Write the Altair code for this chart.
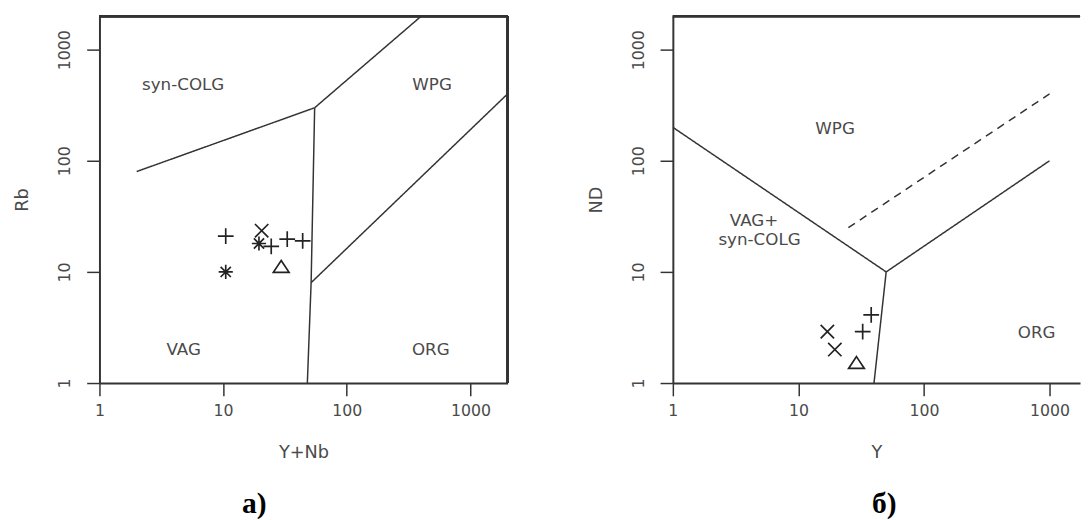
import altair as alt
import pandas as pd

# ---------------- panel а): Rb vs Y+Nb ----------------
a_sym = ["plus", "asterisk", "x", "asterisk", "plus", "plus", "plus", "triangle"]
a_ynb = [10.5, 10.5, 20.5, 19.5, 24.5, 33, 44, 29.5]
a_rb = [21, 10, 23.5, 18, 17, 19.7, 19, 11.2]

a_line_id = ["l1", "l1", "l2", "l2", "l3", "l3", "l3", "l4", "l4"]
a_line_style = ["solid"] * 9
a_line_x = [2, 55, 55, 400, 55, 51.5, 48, 51.5, 2000]
a_line_y = [80, 300, 300, 2000, 300, 8, 1, 8, 400]

a_field_text = ["syn-COLG", "WPG", "VAG", "ORG"]
a_field_x = [4.75, 490, 4.8, 478]
a_field_y = [480, 480, 1.96, 1.96]

# ---------------- panel б): Nb vs Y ----------------
b_sym = ["x", "x", "plus", "plus", "triangle"]
b_y = [17, 19.5, 32.5, 38, 29]
b_nb = [2.9, 2.0, 2.9, 4.1, 1.53]

b_line_id = ["m1", "m1", "m2", "m2", "m3", "m3", "m4", "m4"]
b_line_style = ["solid"] * 6 + ["dashed"] * 2
b_line_x = [1, 50, 50, 1000, 50, 40, 25, 1000]
b_line_y = [200, 10, 10, 100, 10, 1, 25, 400]

b_field_text = ["WPG", "VAG+", "syn-COLG", "ORG"]
b_field_x = [19.6, 4.43, 4.9, 789]
b_field_y = [192, 28.5, 19.2, 2.82]

tick_values = [1, 10, 100, 1000]

sym_names = ["plus", "x", "asterisk", "triangle"]
sym_paths = [
    "M-1,0L1,0M0,-1L0,1",
    "M-0.85,-0.85L0.85,0.85M-0.85,0.85L0.85,-0.85",
    "M-0.9,0L0.9,0M0,-0.9L0,0.9M-0.65,-0.65L0.65,0.65M-0.65,0.65L0.65,-0.65",
    "M0,-0.75L1.0,0.75L-1.0,0.75Z",
]

INK = "#333333"
TXT = "#4a4a4a"
SANS = "DejaVu Sans"


def panel(px, py, psym, lid, lstyle, lx, ly, ftext, fx, fy,
          xdom, ydom, width, height, xtitle, ytitle, ptitle, pdx, right_rule):
    pts = pd.DataFrame({"x": px, "y": py, "sym": psym})
    lines = pd.DataFrame({"x": lx, "y": ly, "id": lid, "style": lstyle})
    labs = pd.DataFrame({"x": fx, "y": fy, "t": ftext})

    xs = alt.Scale(type="log", domain=xdom, nice=False)
    ys = alt.Scale(type="log", domain=ydom, nice=False)
    common = dict(values=tick_values, format="d", grid=False, tickSize=13,
                  tickColor=INK, tickWidth=1.5, domainColor=INK, domainWidth=2,
                  labelFont=SANS, labelFontSize=16, labelColor=TXT,
                  titleFont=SANS, titleFontSize=18, titleColor=TXT,
                  titleFontWeight="normal", labelFlush=False, labelOverlap=False)
    xax = alt.Axis(title=xtitle, labelPadding=7, titlePadding=26, **common)
    yax = alt.Axis(title=ytitle, labelAngle=270, labelAlign="center",
                   labelBaseline="bottom", labelPadding=14, titlePadding=26, **common)
    X = alt.X("x:Q", scale=xs, axis=xax)
    Y = alt.Y("y:Q", scale=ys, axis=yax)

    line_layer = alt.Chart(lines).mark_line(color=INK, strokeWidth=1.5, clip=True).encode(
        x=X, y=Y, detail="id:N",
        strokeDash=alt.StrokeDash("style:N", scale=alt.Scale(domain=["solid", "dashed"],
                                                             range=[[1, 0], [8, 6]]), legend=None),
    )
    pt_layer = alt.Chart(pts).mark_point(filled=False, strokeWidth=1.7, size=256,
                                         color="#222222", opacity=1).encode(
        x=X, y=Y,
        shape=alt.Shape("sym:N", scale=alt.Scale(domain=sym_names, range=sym_paths), legend=None),
    )
    txt_layer = alt.Chart(labs).mark_text(font=SANS, fontSize=17, color=TXT).encode(
        x=X, y=Y, text="t:N")
    top_rule = alt.Chart(pts).mark_rule(color=INK, strokeWidth=2).encode(
        x=alt.value(0), x2=alt.value(width), y=alt.value(0))
    layers = [line_layer, pt_layer, txt_layer, top_rule]
    if right_rule:
        layers.append(alt.Chart(pts).mark_rule(color=INK, strokeWidth=2).encode(
            x=alt.value(width), y=alt.value(0), y2=alt.value(height)))
    return alt.layer(*layers).properties(
        width=width, height=height,
        title=alt.TitleParams(ptitle, orient="bottom", frame="group", dx=pdx,
                              font="Liberation Serif", fontSize=30, fontWeight="bold",
                              color="black", offset=28),
    )


left = panel(a_ynb, a_rb, a_sym, a_line_id, a_line_style, a_line_x, a_line_y,
             a_field_text, a_field_x, a_field_y,
             [1, 2000], [1, 2000], 415, 373, "Y+Nb", "Rb", "а)", -50, True)
right = panel(b_y, b_nb, b_sym, b_line_id, b_line_style, b_line_x, b_line_y,
              b_field_text, b_field_x, b_field_y,
              [1, 1750], [1, 2000], 414, 373, "Y", "ND", "б)", 8, False)

chart = alt.hconcat(left, right, spacing=78).properties(
    padding={"left": 5, "top": 2, "right": 0, "bottom": 0},
    background="white",
).configure_view(stroke="transparent")

chart.save("out.html", embed_options={"renderer": "svg", "actions": False})
